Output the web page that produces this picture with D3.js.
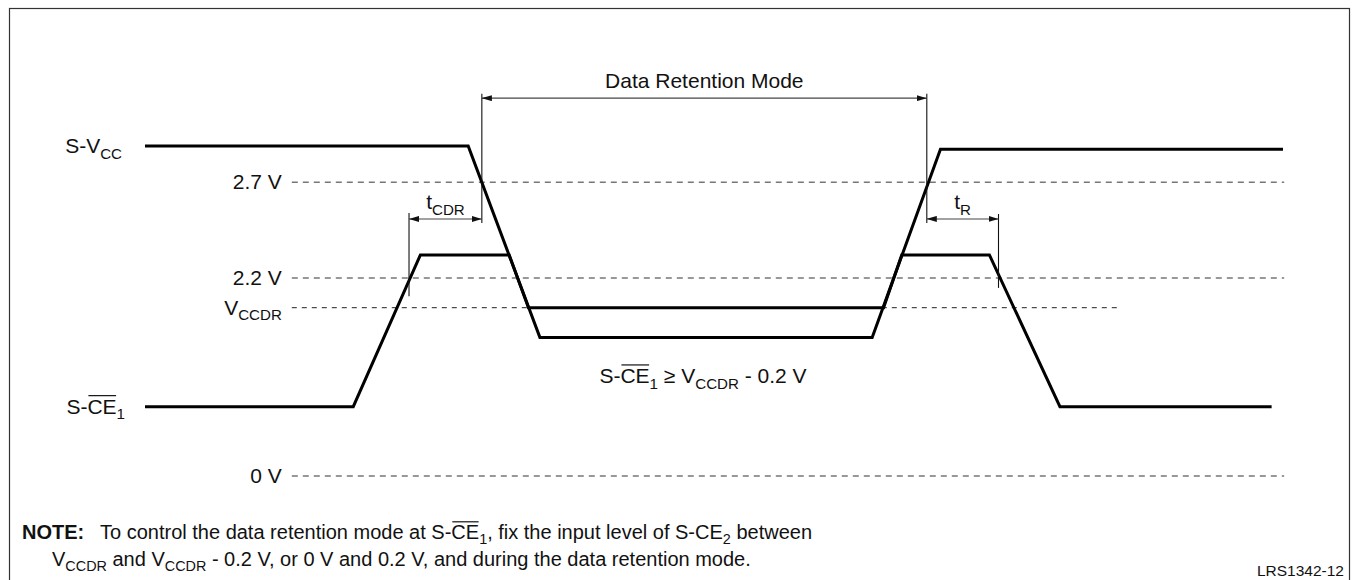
<!DOCTYPE html>
<html><head><meta charset="utf-8">
<script src="https://cdn.jsdelivr.net/npm/d3@7"></script>
<style>body{margin:0;background:#fff}svg{display:block}text{font-family:"Liberation Sans",Arial,Helvetica,sans-serif;fill:#111;white-space:pre}</style>
</head><body><svg id="c" width="1353" height="580"></svg>
<script>
// ---- data (schematic time units / level units) ----
const vccT = [0, 28.4, 34.7, 63.9, 69.9, 100];
const vccL = [10, 10, 4.2, 4.2, 9.9, 9.9];
const ceT = [0, 18.3, 24.2, 32.0, 33.7, 64.9, 66.5, 74.2, 80.4, 99.0];
const ceL = [2.1, 2.1, 6.7, 6.7, 5.1, 5.1, 6.7, 6.7, 2.1, 2.1];
const refLabels = ["2.7 V", "2.2 V", "VCCDR", "0 V"];
const refLevels = [8.9, 6.0, 5.1, 0];
const refStart = [12.9, 12.9, 12.9, 12.9];
const refEnd = [100.1, 100.1, 85.6, 100.1];
const dimNames = ["Data Retention Mode", "tCDR", "tR"];
const dimFrom = [29.6, 23.2, 68.7];
const dimTo = [68.7, 29.6, 75.0];
const dimLevel = [11.45, 7.79, 7.79];

const svg = d3.select("#c");
const x = d3.scaleLinear().domain([0, 100]).range([145, 1283]);
const y = d3.scaleLinear().domain([0, 10]).range([476, 146]);
const FS = 21;

// frame
svg.append("rect").attr("x", 9.5).attr("y", 8.5).attr("width", 1340).attr("height", 580)
  .attr("fill", "none").attr("stroke", "#333").attr("stroke-width", 1.2);

// markers
const defs = svg.append("defs");
defs.append("marker").attr("id", "arr").attr("viewBox", "0 0 10 6").attr("refX", 10).attr("refY", 3)
  .attr("markerWidth", 10).attr("markerHeight", 6).attr("markerUnits", "userSpaceOnUse")
  .attr("orient", "auto-start-reverse")
  .append("path").attr("d", "M0,0L10,3L0,6Z").attr("fill", "#111");

// rich text helper
function rich(g, px, py, segs, anchor, size) {
  const grp = g.append("g");
  let cx = 0; const items = [];
  segs.forEach(s => {
    const fs = s.sub ? size * 0.72 : size;
    const t = grp.append("text").attr("xml:space", "preserve").attr("x", cx).attr("y", py + (s.sub ? size * 0.27 : 0))
      .attr("font-size", fs).attr("font-weight", s.bold ? "bold" : null).text(s.t);
    const w = t.node().getComputedTextLength();
    items.push({t, w, cx, s});
    cx += w;
  });
  const off = anchor === "end" ? px - cx : anchor === "middle" ? px - cx / 2 : px;
  items.forEach(it => {
    it.t.attr("x", off + it.cx);
    if (it.s.over) grp.append("line").attr("x1", off + it.cx + 1).attr("x2", off + it.cx + it.w - 0.5)
      .attr("y1", py - size * 0.86).attr("y2", py - size * 0.86).attr("stroke", "#111").attr("stroke-width", 1.2);
  });
  return cx;
}

// reference dashed lines
refLevels.forEach((lv, i) => {
  const isDr = refLabels[i] === "VCCDR";
  svg.append("line").attr("x1", x(refStart[i])).attr("x2", x(refEnd[i]))
    .attr("y1", y(lv)).attr("y2", y(lv))
    .attr("stroke", isDr ? "#222" : "#777").attr("stroke-width", isDr ? 1 : 1.6)
    .attr("stroke-dasharray", isDr ? "5,5" : "6,5");
  const segs = isDr ? [{t: "V"}, {t: "CCDR", sub: true}] : [{t: refLabels[i]}];
  rich(svg, x(refStart[i]) - 10, y(lv) + 7, segs, "end", FS);
});

// signals
const line = d3.line().x(d => x(d[0])).y(d => y(d[1]));
svg.append("path").attr("d", line(vccT.map((t, i) => [t, vccL[i]])))
  .attr("fill", "none").attr("stroke", "#000").attr("stroke-width", 3).attr("stroke-linejoin", "miter");
svg.append("path").attr("d", line(ceT.map((t, i) => [t, ceL[i]])))
  .attr("fill", "none").attr("stroke", "#000").attr("stroke-width", 3).attr("stroke-linejoin", "miter");

// signal names
rich(svg, x(0) - 23, y(vccL[0]) + 7, [{t: "S-V"}, {t: "CC", sub: true}], "end", FS);
rich(svg, x(0) - 20, y(ceL[0]) + 7, [{t: "S-"}, {t: "CE", over: true}, {t: "1", sub: true}], "end", FS);

// dimension verticals
const vx = [[dimFrom[0], 11.58, 7.67], [dimTo[0], 11.58, 7.67], [dimFrom[1], 7.97, 5.45], [dimTo[2], 7.94, 5.70]];
vx.forEach(v => svg.append("line").attr("x1", x(v[0])).attr("x2", x(v[0])).attr("y1", y(v[1])).attr("y2", y(v[2]))
  .attr("stroke", "#111").attr("stroke-width", 1.1));
// dimension arrows
dimNames.forEach((n, i) => {
  svg.append("line").attr("x1", x(dimFrom[i])).attr("x2", x(dimTo[i]))
    .attr("y1", y(dimLevel[i])).attr("y2", y(dimLevel[i]))
    .attr("stroke", "#444").attr("stroke-width", 1.1)
    .attr("marker-start", "url(#arr)").attr("marker-end", "url(#arr)");
  const mx = (x(dimFrom[i]) + x(dimTo[i])) / 2;
  const segs = i === 0 ? [{t: n}] : [{t: "t"}, {t: n.slice(1), sub: true}];
  rich(svg, mx, y(dimLevel[i]) - 10, segs, "middle", FS);
});

// condition label
rich(svg, x(50) - 11, 383, [{t: "S-"}, {t: "CE", over: true}, {t: "1", sub: true}, {t: " \u2265 V"}, {t: "CCDR", sub: true}, {t: " - 0.2 V"}], "middle", FS);

// note
const NS = 20;
rich(svg, 22, 539, [{t: "NOTE:", bold: true}], "start", NS);
rich(svg, 100, 539, [{t: "To control the data retention mode at S-"}, {t: "CE", over: true}, {t: "1", sub: true},
  {t: ", fix the input level of S-CE"}, {t: "2", sub: true}, {t: " between"}], "start", NS);
rich(svg, 52, 566, [{t: "V"}, {t: "CCDR", sub: true}, {t: " and V"}, {t: "CCDR", sub: true},
  {t: " - 0.2 V, or 0 V and 0.2 V, and during the data retention mode."}], "start", NS);
svg.append("text").attr("x", 1344).attr("y", 576).attr("text-anchor", "end").attr("font-size", 15.5).text("LRS1342-12");
</script></body></html>
